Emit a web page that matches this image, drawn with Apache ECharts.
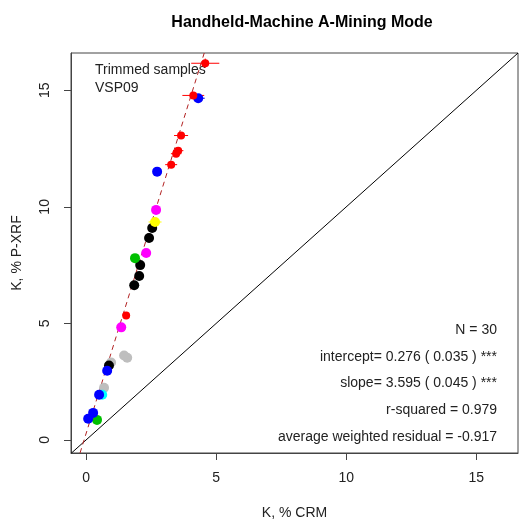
<!DOCTYPE html>
<html>
<head>
<meta charset="utf-8">
<script src="https://cdn.jsdelivr.net/npm/echarts@6/dist/echarts.min.js"></script>
<style>
  html, body { margin: 0; padding: 0; background: #fff; }
  #chart { width: 519px; height: 523px; }
</style>
</head>
<body>
<div id="chart"></div>
<script>
// K concentration: certified reference value (x) vs handheld P-XRF reading (y)
const redX   = [4.58, 4.12, 3.65, 3.54, 3.46, 3.27, 1.54];
const redY   = [16.16, 14.78, 13.06, 12.41, 12.28, 11.81, 5.34];
const redXErr = [0.54, 0.42, 0.27, 0.2, 0.2, 0.23, 0.08];
const redYErr = [0.2, 0.15, 0.15, 0.12, 0.12, 0.12, 0.1];

const blueX = [4.31, 2.73, 0.81, 0.50, 0.27, 0.08];
const blueY = [14.66, 11.51, 2.97, 1.94, 1.16, 0.91];
const blueXErr = [0.25, 0, 0, 0, 0, 0];

const magentaX = [2.69, 2.31, 1.35];
const magentaY = [9.87, 8.02, 4.83];

const yellowX = [2.65];
const yellowY = [9.35];
const yellowXErr = [0.25];

const blackX = [2.54, 2.42, 2.08, 2.04, 1.85, 0.88];
const blackY = [9.09, 8.66, 7.50, 7.03, 6.64, 3.19];

const greenX = [1.88, 0.42];
const greenY = [7.80, 0.86];

const greyX = [1.58, 1.46, 0.96, 0.69];
const greyY = [3.53, 3.62, 3.32, 2.24];

const cyanX = [0.62];
const cyanY = [1.94];

// Fit summary
const nSamples = 30;
const intercept = 0.276, interceptSE = 0.035;
const slope = 3.595, slopeSE = 0.045;
const rSquared = 0.979;
const avgWeightedResidual = -0.917;

// Axis ranges and tick labels
const xRange = [-0.58, 16.6];
const yRange = [-0.56, 16.6];
const tickValues = [0, 5, 10, 15];

const pairs = (xs, ys) => xs.map((x, i) => [x, ys[i]]);

function pointSeries(xs, ys, color, size, z) {
  return {
    type: 'scatter',
    data: pairs(xs, ys),
    symbol: 'circle',
    symbolSize: size || 10,
    itemStyle: { color: color, opacity: 1 },
    z: z || 5,
    silent: true
  };
}

function errorSeries(xs, ys, xErr, yErr, color) {
  return {
    type: 'custom',
    data: xs.map((x, i) => [x, ys[i], xErr ? xErr[i] : 0, yErr ? yErr[i] : 0]),
    renderItem: function (params, api) {
      const x = api.value(0), y = api.value(1), ex = api.value(2), ey = api.value(3);
      const children = [];
      if (ex > 0) {
        const a = api.coord([x - ex, y]), b = api.coord([x + ex, y]);
        children.push({ type: 'line', shape: { x1: a[0], y1: a[1], x2: b[0], y2: b[1] },
          style: { stroke: color, lineWidth: 1 } });
      }
      if (ey > 0) {
        const a = api.coord([x, y - ey]), b = api.coord([x, y + ey]);
        children.push({ type: 'line', shape: { x1: a[0], y1: a[1], x2: b[0], y2: b[1] },
          style: { stroke: color, lineWidth: 1 } });
      }
      return { type: 'group', children: children };
    },
    z: 4,
    silent: true
  };
}

// Fitted line endpoints, limited to the visible y range
const fitX0 = (yRange[0] - intercept) / slope;
const fitX1 = (yRange[1] - intercept) / slope;
const fitLine = [[fitX0, intercept + slope * fitX0], [fitX1, intercept + slope * fitX1]];
const identityLine = [[xRange[0], xRange[0]], [yRange[1], yRange[1]]];

const font = '"Liberation Sans", Arial, sans-serif';
const statLines = [
  'N = ' + nSamples,
  'intercept= ' + intercept.toFixed(3) + ' ( ' + interceptSE.toFixed(3) + ' ) ***',
  'slope= ' + slope.toFixed(3) + ' ( ' + slopeSE.toFixed(3) + ' ) ***',
  'r-squared = ' + rSquared.toFixed(3),
  'average weighted residual = ' + avgWeightedResidual.toFixed(3)
];

const chart = echarts.init(document.getElementById('chart'), null, { renderer: 'canvas' });

chart.setOption({
  backgroundColor: '#fff',
  animation: false,
  textStyle: { fontFamily: font },
  title: {
    text: 'Handheld-Machine A-Mining Mode',
    left: 297, top: 10, textAlign: 'center',
    textStyle: { fontFamily: font, fontSize: 16, fontWeight: 'bold', color: '#000' }
  },
  grid: {
    left: 71, right: 1, top: 53, bottom: 70,
    outerBoundsMode: 'none', containLabel: false,
    show: true, borderColor: '#444', borderWidth: 1, backgroundColor: 'transparent'
  },
  xAxis: {
    type: 'value', min: xRange[0], max: xRange[1],
    name: 'K, % CRM', nameLocation: 'middle', nameGap: 53,
    nameTextStyle: { fontFamily: font, fontSize: 14, color: '#222' },
    axisLine: { show: true, onZero: false, lineStyle: { color: '#444' } },
    axisTick: { show: true, length: 7, customValues: tickValues, lineStyle: { color: '#444' } },
    axisLabel: { customValues: tickValues, margin: 18, fontSize: 14, color: '#222', fontFamily: font },
    splitLine: { show: false }
  },
  yAxis: {
    type: 'value', min: yRange[0], max: yRange[1],
    name: 'K, % P-XRF', nameLocation: 'middle', nameGap: 47, nameRotate: 90,
    nameTextStyle: { fontFamily: font, fontSize: 14, color: '#222' },
    axisLine: { show: true, onZero: false, lineStyle: { color: '#444' } },
    axisTick: { show: true, length: 7, customValues: tickValues, lineStyle: { color: '#444' } },
    axisLabel: { customValues: tickValues, rotate: 90, margin: 19, fontSize: 14, color: '#222', fontFamily: font },
    splitLine: { show: false }
  },
  series: [
    {
      type: 'line', data: identityLine, symbol: 'none', clip: true,
      lineStyle: { color: '#000', width: 1 }, z: 2, silent: true
    },
    {
      type: 'line', data: fitLine, symbol: 'none', clip: true,
      lineStyle: { color: '#B22222', width: 1, type: [5, 4] }, z: 3, silent: true
    },
    errorSeries(redX, redY, redXErr, redYErr, '#FF0000'),
    errorSeries(blueX, blueY, blueXErr, null, '#0000FF'),
    errorSeries(yellowX, yellowY, yellowXErr, null, '#FFFF00'),
    pointSeries(greyX, greyY, '#BEBEBE'),
    pointSeries(cyanX, cyanY, '#00FFFF'),
    pointSeries(blackX, blackY, '#000000'),
    pointSeries(greenX, greenY, '#00C000'),
    pointSeries(magentaX, magentaY, '#FF00FF'),
    pointSeries(yellowX, yellowY, '#FFFF00'),
    pointSeries(blueX, blueY, '#0000FF', 10, 6),
    pointSeries(redX, redY, '#FF0000', 8, 7)
  ],
  graphic: [
    { type: 'text', left: 95, top: 63, style: { text: 'Trimmed samples', font: '14px ' + font, fill: '#222' } },
    { type: 'text', left: 95, top: 81, style: { text: 'VSP09', font: '14px ' + font, fill: '#222' } }
  ].concat(statLines.map((t, i) => ({
    type: 'text', right: 22, top: 323 + i * 26.8,
    style: { text: t, font: '14px ' + font, fill: '#222', textAlign: 'right' }
  })))
});
</script>
</body>
</html>
